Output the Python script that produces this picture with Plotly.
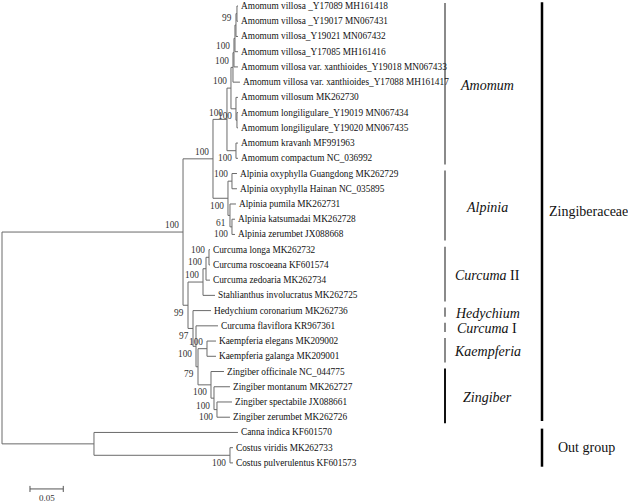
import plotly.graph_objects as go
from collections import defaultdict

# ---------------- data ----------------
leaf_names = [
    "Amomum villosa _Y17089 MH161418",
    "Amomum villosa _Y19017 MN067431",
    "Amomum villosa_Y19021 MN067432",
    "Amomum villosa_Y17085 MH161416",
    "Amomum villosa var. xanthioides_Y19018 MN067433",
    "Amomum villosa var. xanthioides_Y17088 MH161417",
    "Amomum villosum MK262730",
    "Amomum longiligulare_Y19019 MN067434",
    "Amomum longiligulare_Y19020 MN067435",
    "Amomum kravanh MF991963",
    "Amomum compactum NC_036992",
    "Alpinia oxyphylla Guangdong MK262729",
    "Alpinia oxyphylla Hainan NC_035895",
    "Alpinia pumila MK262731",
    "Alpinia katsumadai MK262728",
    "Alpinia zerumbet JX088668",
    "Curcuma longa MK262732",
    "Curcuma roscoeana KF601574",
    "Curcuma zedoaria MK262734",
    "Stahlianthus involucratus MK262725",
    "Hedychium coronarium MK262736",
    "Curcuma flaviflora KR967361",
    "Kaempferia elegans MK209002",
    "Kaempferia galanga MK209001",
    "Zingiber officinale NC_044775",
    "Zingiber montanum MK262727",
    "Zingiber spectabile JX088661",
    "Zingiber zerumbet MK262726",
    "Canna indica KF601570",
    "Costus viridis MK262733",
    "Costus pulverulentus KF601573",
]
leaf_parent = ["P12", "P12", "C3", "C", "Cp", "A1a", "A1b", "L89", "L89", "A2", "A2",
               "ALP1", "ALP1", "ALP2", "ALP3", "ALP3", "C1718", "C1718", "CII2", "CII",
               "R", "FKZ", "KAEM", "KAEM", "ZING", "Z2", "Z3", "Z3", "OUT", "COST", "COST"]
leaf_bl = [0.0015, 0.0015, 0.0030, 0.0045, 0.0060, 0.0105, 0.0030, 0.0015, 0.0015, 0.0030, 0.0030,
           0.0075, 0.0075, 0.0090, 0.0045, 0.0045, 0.0015, 0.0015, 0.0060, 0.0180,
           0.0270, 0.0330, 0.0135, 0.0135, 0.0195, 0.0240, 0.0225, 0.0195, 0.2162, 0.0045, 0.0045]

node_names = ["root", "Z", "OUT", "AA", "M", "A1", "A1a", "Cp", "C", "C3", "P12", "A1b", "L89", "A2",
              "ALP", "ALP1", "ALP2", "ALP3", "LW", "CII", "CII2", "C1718", "R", "FKZ", "KZ",
              "KAEM", "ZING", "Z2", "Z3", "COST"]
node_parent = [None, "root", "root", "Z", "AA", "M", "A1", "A1a", "Cp", "C", "C3", "A1", "A1b", "M",
               "AA", "ALP", "ALP", "ALP2", "Z", "LW", "CII", "CII2", "LW", "R", "FKZ",
               "KZ", "KZ", "ZING", "Z2", "OUT"]
node_bl = [0.0, 0.2718, 0.1381, 0.0450, 0.0210, 0.0060, 0.0030, 0.0015, 0.0015, 0.0015, 0.0015, 0.0075, 0.0015, 0.0135,
           0.0225, 0.0060, 0.0030, 0.0030, 0.0075, 0.0225, 0.0045, 0.0045, 0.0075, 0.0045, 0.0030,
           0.0135, 0.0195, 0.0045, 0.0045, 0.2042]
node_boot = [None, 100, None, 100, 100, 100, 100, 100, None, 99, None, 100, None, 100,
             100, 100, 61, 100, 99, 100, 100, 100, 97, 100, 79,
             100, 100, 100, 100, 100]

clade_names = ["<i>Amomum</i>", "<i>Alpinia</i>", "<i>Curcuma</i> II", "<i>Hedychium</i>",
               "<i>Curcuma</i> I", "<i>Kaempferia</i>", "<i>Zingiber</i>"]
clade_first = [0, 11, 16, 20, 21, 22, 24]
clade_last = [10, 15, 19, 20, 21, 23, 27]

family_names = ["Zingiberaceae", "Out group"]
family_first = [0, 28]
family_last = [27, 30]

scale_len = 0.05
scale_label = "0.05"

# ---------------- styles ----------------
FONT = "Liberation Serif"
W, H = 628, 504
PX_PER_UNIT = 666.0
ROW_PX = 15.23
X0_PX, Y0_PX = 2.0, 6.0
LINE_COLOR = "#6a6a6a"

# ---------------- tree layout ----------------
parent, blen, children = {}, {}, defaultdict(list)
for n, p, b in zip(node_names, node_parent, node_bl):
    parent[n] = p
    blen[n] = b
    if p is not None:
        children[p].append(n)
boot = dict(zip(node_names, node_boot))
leaf_keys = []
for i, (p, b) in enumerate(zip(leaf_parent, leaf_bl)):
    k = f"leaf{i}"
    leaf_keys.append(k)
    parent[k] = p
    blen[k] = b
    children[p].append(k)

depth_cache, y_cache = {}, {}


def depth(k):
    if k not in depth_cache:
        p = parent[k]
        depth_cache[k] = 0.0 if p is None else depth(p) + blen[k]
    return depth_cache[k]


def ypos(k):
    if k not in y_cache:
        if k.startswith("leaf"):
            y_cache[k] = float(k[4:])
        else:
            ys = [ypos(c) for c in children[k]]
            y_cache[k] = (min(ys) + max(ys)) / 2
    return y_cache[k]


xs, ys = [], []
all_keys = node_names + leaf_keys
for k in all_keys:
    p = parent[k]
    if p is not None:
        xs += [depth(p), depth(k), None]
        ys += [ypos(k), ypos(k), None]
    if children.get(k):
        cy = [ypos(c) for c in children[k]]
        xs += [depth(k), depth(k), None]
        ys += [min(cy), max(cy), None]

fig = go.Figure()
fig.add_trace(go.Scatter(x=xs, y=ys, mode="lines", line=dict(color=LINE_COLOR, width=1),
                         hoverinfo="skip", showlegend=False))

annotations = []
# leaf labels
for i, k in enumerate(leaf_keys):
    annotations.append(dict(x=depth(k), y=ypos(k), text=leaf_names[i], showarrow=False,
                            xanchor="left", yanchor="middle", xshift=1,
                            font=dict(family=FONT, size=9.3, color="#111")))
# bootstrap labels
for n in node_names:
    b = boot.get(n)
    if b is None or parent[n] is None:
        continue
    upper = ypos(n) < ypos(parent[n])
    annotations.append(dict(x=depth(n), y=ypos(n) + (-0.45 if upper else 0.5), text=str(b),
                            showarrow=False, xanchor="right", yanchor="middle", xshift=-2,
                            font=dict(family=FONT, size=9.3, color="#333")))

shapes = []
# scale bar
sb_x = 0.042
sb_y = 31.71
shapes.append(dict(type="line", xref="x", yref="y", x0=sb_x, x1=sb_x + scale_len, y0=sb_y, y1=sb_y,
                   line=dict(color="#555", width=1)))
for xx in (sb_x, sb_x + scale_len):
    shapes.append(dict(type="line", xref="x", yref="y", x0=xx, x1=xx, y0=sb_y - 0.2, y1=sb_y + 0.2,
                       line=dict(color="#555", width=1)))
annotations.append(dict(x=sb_x + scale_len / 2, y=sb_y + 0.6, text=scale_label, showarrow=False,
                        xanchor="center", yanchor="middle",
                        font=dict(family=FONT, size=9, color="#333")))

# clade brackets
CLADE_BAR_X = 445 / W
CLADE_LABEL_X = 487 / W
for i, (nm, f, l) in enumerate(zip(clade_names, clade_first, clade_last)):
    col = "#111" if i == len(clade_names) - 1 else "#8a8a8a"
    y0, y1 = f - 0.2, l + 0.4
    shapes.append(dict(type="line", xref="paper", yref="y", x0=CLADE_BAR_X, x1=CLADE_BAR_X,
                       y0=y0, y1=y1, line=dict(color=col, width=2)))
    annotations.append(dict(x=CLADE_LABEL_X, xref="paper", y=(y0 + y1) / 2 + 0.1, yref="y", text=nm,
                            showarrow=False, xanchor="center", yanchor="middle",
                            font=dict(family=FONT, size=14, color="#111")))

FAM_BAR_X = 542 / W
fam_label_px = [547, 556]
for nm, f, l, lx in zip(family_names, family_first, family_last, fam_label_px):
    y0, y1 = f - 0.25, l + 0.25
    shapes.append(dict(type="line", xref="paper", yref="y", x0=FAM_BAR_X, x1=FAM_BAR_X,
                       y0=y0, y1=y1, line=dict(color="#000", width=2.5)))
    annotations.append(dict(x=lx / W, xref="paper", y=(y0 + y1) / 2, yref="y", text=nm,
                            showarrow=False, xanchor="left", yanchor="middle",
                            font=dict(family=FONT, size=14, color="#111")))

xmin = -X0_PX / PX_PER_UNIT
xmax = xmin + W / PX_PER_UNIT
ymin = -Y0_PX / ROW_PX
ymax = ymin + H / ROW_PX

fig.update_layout(
    width=W, height=H, autosize=False,
    margin=dict(l=0, r=0, t=0, b=0),
    paper_bgcolor="white", plot_bgcolor="white",
    xaxis=dict(range=[xmin, xmax], visible=False, fixedrange=True),
    yaxis=dict(range=[ymax, ymin], visible=False, fixedrange=True),
    annotations=annotations, shapes=shapes, showlegend=False,
)
fig.write_html("out.html", config={"displayModeBar": False},
               post_script="document.body.style.margin='0px';")
